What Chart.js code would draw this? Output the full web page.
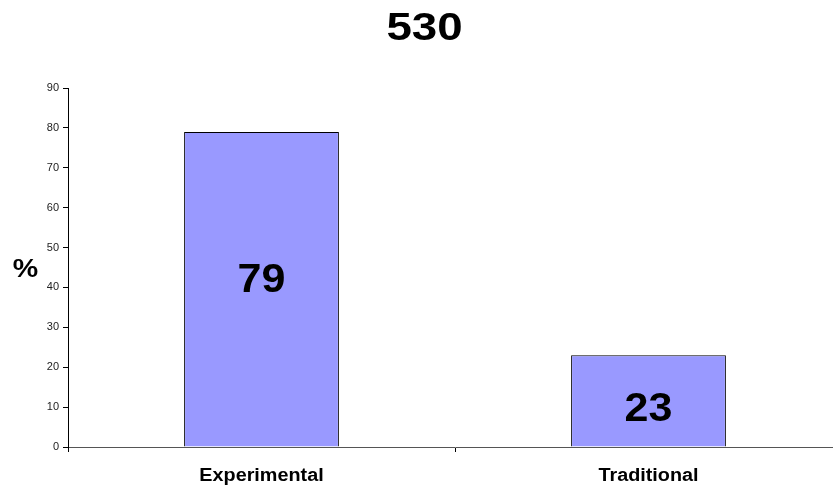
<!DOCTYPE html>
<html>
<head>
<meta charset="utf-8">
<script src="https://cdn.jsdelivr.net/npm/chart.js@4/dist/chart.umd.min.js"></script>
<style>
    html, body { margin: 0; padding: 0; background: #fff; overflow: hidden; }
    #wrap { width: 842px; height: 486px; }
</style>
</head>
<body>
<div id="wrap"><canvas id="myChart" width="842" height="486"></canvas></div>
<script>
    const categories = ['Experimental', 'Traditional'];
    const percentValues = [79, 23];
    const yTicks = [0, 10, 20, 30, 40, 50, 60, 70, 80, 90];
    const chartTitle = '530';
    const yAxisLabel = '%';

    const fontFamily = '"Liberation Sans", Arial, sans-serif';

    // text drawn a little wider than the font's normal width
    function wideText(ctx, text, x, y, stretch) {
        ctx.save();
        ctx.translate(x, y);
        ctx.scale(stretch, 1);
        ctx.fillText(text, 0, 0);
        ctx.restore();
    }

    // value inside each bar, category names, title and the % label
    const barTextPlugin = {
        id: 'barText',
        afterDatasetsDraw(chart) {
            const ctx = chart.ctx;
            const meta = chart.getDatasetMeta(0);
            const labelNudge = [-9, 9];
            ctx.save();
            ctx.fillStyle = '#000';
            ctx.textAlign = 'center';
            ctx.textBaseline = 'middle';

            ctx.font = 'bold 41px ' + fontFamily;
            meta.data.forEach((bar, i) => {
                const mid = (bar.y + bar.base) / 2;
                wideText(ctx, String(percentValues[i]), bar.x, mid + labelNudge[i], 1.05);
            });

            ctx.textBaseline = 'alphabetic';
            ctx.font = 'bold 18px ' + fontFamily;
            const xScale = chart.scales.x;
            categories.forEach((name, i) => {
                wideText(ctx, name, xScale.getPixelForValue(i), 481, 1.1);
            });

            ctx.font = 'bold 39px ' + fontFamily;
            wideText(ctx, chartTitle, 424.5, 40, 1.17);

            ctx.font = 'bold 26px ' + fontFamily;
            wideText(ctx, yAxisLabel, 25.5, 277, 1.1);
            ctx.restore();
        }
    };

    const ctx = document.getElementById('myChart').getContext('2d');
    const myChart = new Chart(ctx, {
        type: 'bar',
        data: {
            labels: categories,
            datasets: [{
                data: percentValues,
                backgroundColor: '#9999ff',
                borderColor: '#000',
                borderWidth: 1,
                barPercentage: 0.4,
                categoryPercentage: 1.0
            }]
        },
        options: {
            responsive: false,
            animation: false,
            layout: { padding: { top: 88, right: 0, left: 0, bottom: 0 } },
            plugins: {
                legend: { display: false },
                title: { display: false },
                tooltip: { enabled: false }
            },
            scales: {
                x: {
                    offset: true,
                    grid: {
                        offset: true,
                        drawOnChartArea: false,
                        tickLength: 5,
                        color: '#000'
                    },
                    border: { color: '#555', width: 1 },
                    ticks: { display: false },
                    afterFit(scale) { scale.height = 39; }
                },
                y: {
                    min: 0,
                    max: 90,
                    afterBuildTicks(scale) {
                        scale.ticks = yTicks.map(v => ({ value: v }));
                    },
                    grid: {
                        drawOnChartArea: false,
                        tickLength: 5,
                        color: '#000'
                    },
                    border: { color: '#000', width: 1 },
                    ticks: {
                        color: '#222',
                        padding: 4,
                        font: { family: fontFamily, size: 11 }
                    },
                    afterFit(scale) { scale.width = 68; }
                }
            }
        },
        plugins: [barTextPlugin]
    });
</script>
</body>
</html>
